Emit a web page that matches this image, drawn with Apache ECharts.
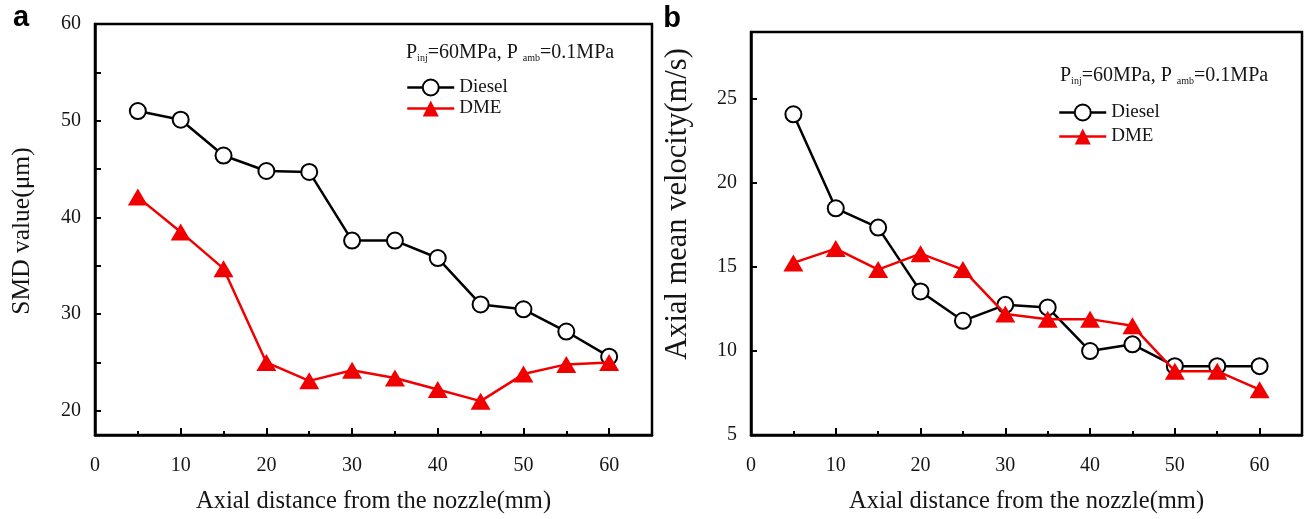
<!DOCTYPE html>
<html>
<head>
<meta charset="utf-8">
<script src="https://cdn.jsdelivr.net/npm/echarts@6/dist/echarts.min.js"></script>
<style>
  html, body { margin: 0; padding: 0; background: #fff; }
  #chart { width: 1304px; height: 519px; }
</style>
</head>
<body>
<div id="chart"></div>
<script>
// Axial distance from the nozzle (mm)
const distance = [5, 10, 15, 20, 25, 30, 35, 40, 45, 50, 55, 60];

// (a) Sauter mean diameter (μm)
const smdDiesel = [51.0, 50.1, 46.4, 44.8, 44.7, 37.6, 37.6, 35.8, 31.0, 30.5, 28.2, 25.6];
const smdDME    = [42.1, 38.5, 34.7, 25.0, 23.1, 24.2, 23.4, 22.2, 21.0, 23.8, 24.8, 25.0];

// (b) Axial mean velocity (m/s)
const velDiesel = [24.1, 18.5, 17.35, 13.55, 11.8, 12.75, 12.6, 10.0, 10.4, 9.1, 9.1, 9.1];
const velDME    = [15.25, 16.1, 14.85, 15.8, 14.85, 12.2, 11.9, 11.9, 11.5, 8.8, 8.8, 7.7];

// Tick values
const xMajorTicks = [0, 10, 20, 30, 40, 50, 60];
const xMinorTicks = [5, 15, 25, 35, 45, 55];
const smdTicks = [20, 25, 30, 35, 40, 45, 50, 55, 60];
const smdLabels = [20, 30, 40, 50, 60];
const velTicks = [5, 10, 15, 20, 25];

const seriesNames = ['Diesel', 'DME'];
const condition = 'P_inj=60MPa, P_amb=0.1MPa';

const SERIF = '"Liberation Serif", "Times New Roman", serif';
const RED = '#f00000';
const INK = '#151515';

const pairs = (xs, ys) => xs.map((x, i) => [x, ys[i]]);

function xAxes(gridIndex) {
  const base = {
    type: 'value', gridIndex, min: 0, max: 65, position: 'bottom',
    splitLine: { show: false }
  };
  return [
    Object.assign({}, base, {
      axisLine: { show: true, lineStyle: { color: '#000', width: 2.5 } },
      axisTick: { show: true, inside: true, length: 7, customValues: xMajorTicks,
                  lineStyle: { color: '#000', width: 2 } },
      axisLabel: { show: true, customValues: xMajorTicks, margin: 21,
                   color: INK, fontFamily: SERIF, fontSize: 20 },
      name: 'Axial distance from the nozzle(mm)',
      nameLocation: 'middle', nameGap: 54,
      nameTextStyle: { color: INK, fontFamily: SERIF, fontSize: 24.5 }
    }),
    Object.assign({}, base, {
      axisLine: { show: false },
      axisTick: { show: true, inside: true, length: 4, customValues: xMinorTicks,
                  lineStyle: { color: '#000', width: 2 } },
      axisLabel: { show: false }
    })
  ];
}

function yAxis(gridIndex, min, max, ticks, labels) {
  return {
    type: 'value', gridIndex, min, max,
    splitLine: { show: false },
    axisLine: { show: true, lineStyle: { color: '#000', width: 2.5 } },
    axisTick: { show: true, inside: true, length: 6, customValues: ticks,
                lineStyle: { color: '#000', width: 2 } },
    axisLabel: { show: true, customValues: labels, margin: 14,
                 color: INK, fontFamily: SERIF, fontSize: 20 }
  };
}

function dieselSeries(xi, yi, values) {
  return {
    name: seriesNames[0], type: 'line', xAxisIndex: xi, yAxisIndex: yi,
    data: pairs(distance, values),
    symbol: 'emptyCircle', symbolSize: 16,
    itemStyle: { color: '#000', borderWidth: 2.5 },
    lineStyle: { color: '#000', width: 2.5 },
    z: 3, animation: false
  };
}

function dmeSeries(xi, yi, values) {
  return {
    name: seriesNames[1], type: 'line', xAxisIndex: xi, yAxisIndex: yi,
    data: pairs(distance, values),
    symbol: 'triangle', symbolSize: [20, 17],
    itemStyle: { color: RED },
    lineStyle: { color: RED, width: 2.5 },
    z: 4, animation: false
  };
}

function legendAt(left, top, gap) {
  return {
    left, top, padding: 0, orient: 'vertical', itemGap: gap, itemWidth: 47, itemHeight: 20,
    itemTextGap: 1, data: seriesNames, selectedMode: false,
    lineStyle: { width: 2.5 },
    textStyle: { color: INK, fontFamily: SERIF, fontSize: 19 }
  };
}

// Condition header with subscripts
function conditionText(x, y) {
  const m = condition.match(/^P_(\w+)(=.*?, P)_(\w+)(=.*)$/);
  return {
    type: 'text', x, y,
    style: {
      text: '{n|P}{s|' + m[1] + '}{n|' + m[2] + ' }{s|' + m[3] + '}{n|' + m[4] + '}',
      verticalAlign: 'middle',
      rich: {
        n: { fontFamily: SERIF, fontSize: 20, lineHeight: 20, verticalAlign: 'top', fill: INK },
        s: { fontFamily: SERIF, fontSize: 10, lineHeight: 10, padding: [13, 0, 0, 0],
             verticalAlign: 'bottom', fill: INK }
      }
    }
  };
}

function rotatedTitle(text, x, y, size) {
  return {
    type: 'text', x, y, rotation: Math.PI / 2,
    style: { text, fontFamily: SERIF, fontSize: size, fill: INK,
             align: 'center', verticalAlign: 'middle' }
  };
}

function panelLetter(text, x, y) {
  return {
    type: 'text', x, y,
    style: { text, fontFamily: '"Liberation Sans", Arial, sans-serif', fontWeight: 'bold',
             fontSize: 29, fill: '#000', align: 'center', verticalAlign: 'middle' }
  };
}

const chart = echarts.init(document.getElementById('chart'), null, { renderer: 'canvas' });

chart.setOption({
  backgroundColor: '#fff',
  animation: false,
  grid: [
    { left: 95, top: 24, width: 557, height: 413, show: true, borderColor: '#000', borderWidth: 2.5, backgroundColor: 'transparent' },
    { left: 751, top: 32, width: 551, height: 406, show: true, borderColor: '#000', borderWidth: 2.5, backgroundColor: 'transparent' }
  ],
  xAxis: xAxes(0).concat(xAxes(1)),
  yAxis: [
    yAxis(0, 17.5, 60, smdTicks, smdLabels),
    yAxis(1, 5, 29, velTicks, velTicks)
  ],
  legend: [legendAt(406, 78, 2), legendAt(1058, 103, 5)],
  series: [
    dieselSeries(0, 0, smdDiesel),
    dmeSeries(0, 0, smdDME),
    dieselSeries(2, 1, velDiesel),
    dmeSeries(2, 1, velDME)
  ],
  graphic: [
    panelLetter('a', 21, 18),
    panelLetter('b', 672, 19),
    conditionText(406, 53),
    conditionText(1060, 76),
    rotatedTitle('SMD value(μm)', 22, 231, 25.5),
    rotatedTitle('Axial mean velocity(m/s)', 678, 204, 30.5)
  ]
});
</script>
</body>
</html>
